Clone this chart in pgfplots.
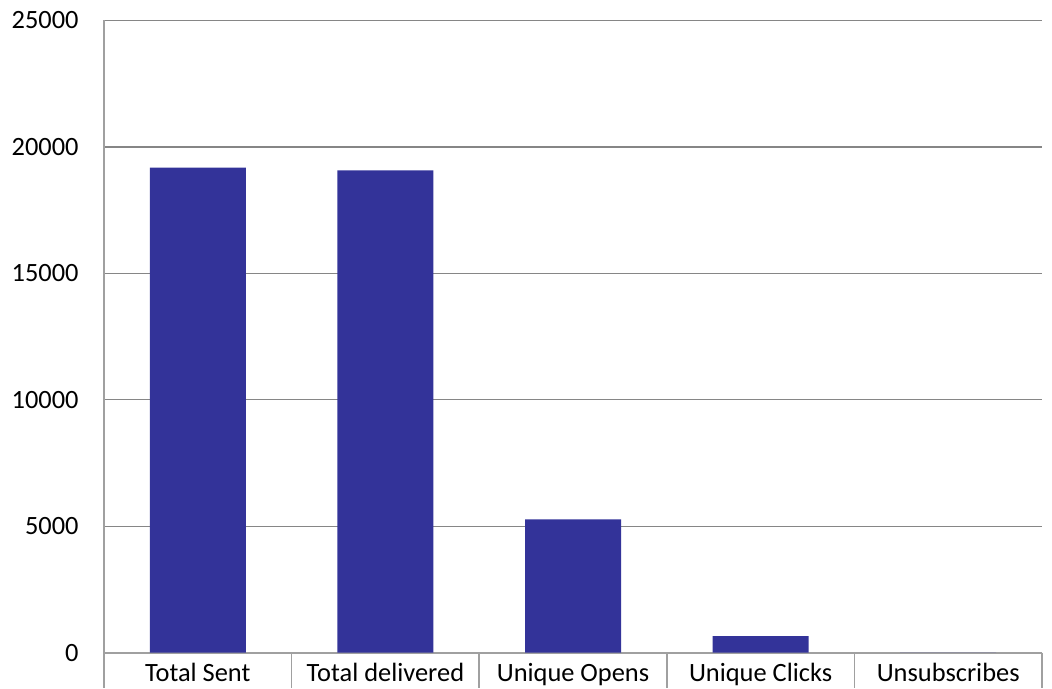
\documentclass[border=0pt]{standalone}
\usepackage{pgfplots}
\pgfplotsset{compat=1.18}
\usepackage{fontspec}
\setmainfont{Carlito}
\definecolor{barblue}{RGB}{51,51,153}
\definecolor{gridgray}{RGB}{134,134,134}
\definecolor{axisgray}{RGB}{160,160,160}
\begin{document}
\fontsize{13.2}{15.8}\selectfont
\begin{tikzpicture}
\path (-52pt,-17.65pt) rectangle (474pt,326.35pt);
\begin{axis}[
  scale only axis,
  width=469pt, height=316.1pt,
  xmin=-0.5, xmax=4.5,
  ymin=0, ymax=25000,
  ytick={0,5000,...,25000},
  xtick={0,1,2,3,4},
  xticklabels={Total Sent,Total delivered,Unique Opens,Unique Clicks,Unsubscribes},
  major tick length=0pt,
  ymajorgrids,
  grid style={gridgray, line width=0.6pt},
  axis x line*=bottom,
  axis y line*=left,
  axis line style={axisgray, line width=0.8pt, -},
  scaled y ticks=false,
  /pgf/number format/assume math mode=true,
  yticklabel={\pgfmathprintnumber[fixed,1000 sep={}]{\tick}},
  yticklabel style={anchor=east, inner sep=0pt, xshift=-12.5pt},
  xticklabel style={anchor=base, inner sep=0pt, yshift=-14.3pt},
  tick label style={font=\fontsize{13.2}{15.8}\selectfont},
]
\addplot[ybar, bar width=48pt, fill=barblue, draw=none] coordinates {
  (0,19179) (1,19077) (2,5276) (3,659) (4,5)
};
\end{axis}
% category separators below the axis
\foreach \k in {0,...,5} {
  \draw[axisgray, line width=0.8pt] (\k*93.8pt,0pt) -- (\k*93.8pt,-17.65pt);
}
\end{tikzpicture}
\end{document}
